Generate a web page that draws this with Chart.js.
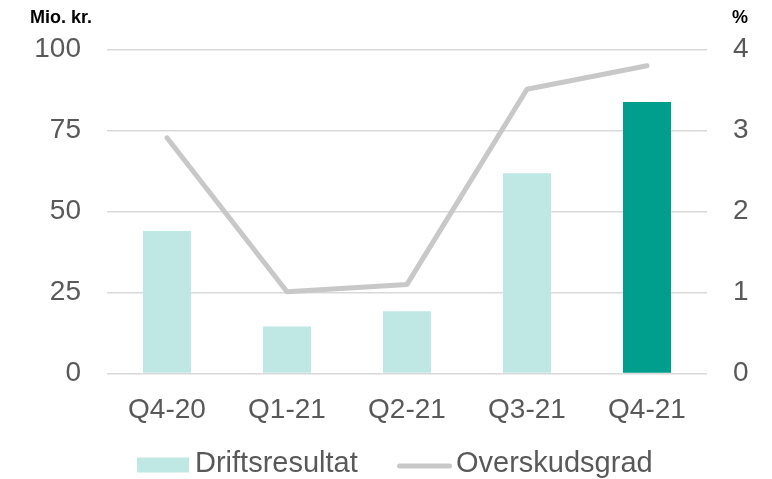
<!DOCTYPE html>
<html>
<head>
<meta charset="utf-8">
<script src="https://cdn.jsdelivr.net/npm/chart.js@4/dist/chart.umd.min.js"></script>
<style>
  html, body { margin: 0; padding: 0; background: #fff; }
  #wrap { width: 772px; height: 479px; }
</style>
</head>
<body>
<div id="wrap"><canvas id="resultChart" width="772" height="479"></canvas></div>
<script>
// Data
const quarters = ['Q4-20', 'Q1-21', 'Q2-21', 'Q3-21', 'Q4-21'];
const driftsresultat = [44, 14.5, 19.2, 61.8, 83.8];   // Mio. kr.
const overskudsgrad = [2.91, 1.01, 1.1, 3.51, 3.8];    // %
const leftTicks = [0, 25, 50, 75, 100];
const rightTicks = [0, 1, 2, 3, 4];

const lightTeal = '#bfe7e3';
const darkTeal = '#009e8c';
const lineGrey = '#c8c8c8';
const textGrey = '#595959';
const fontFamily = '"Liberation Sans", Arial, sans-serif';

// Latest quarter highlighted in the dark colour
const barColors = quarters.map((q, i) => i === quarters.length - 1 ? darkTeal : lightTeal);

// Axis titles above each y axis and a hand-placed legend under the x axis
const decorations = {
  id: 'decorations',
  afterDraw(chart) {
    const ctx = chart.ctx;
    ctx.save();

    // Axis titles
    ctx.fillStyle = '#000';
    ctx.font = 'bold 18px ' + fontFamily;
    ctx.textBaseline = 'middle';
    ctx.textAlign = 'left';
    ctx.fillText('Mio. kr.', 30, 18);
    ctx.fillText('%', 732, 18);

    // Legend
    const barSet = chart.data.datasets[1];
    const lineSet = chart.data.datasets[0];
    const legendY = 464;
    ctx.font = '29px ' + fontFamily;
    ctx.fillStyle = barSet.backgroundColor[0];
    ctx.fillRect(137, 457.5, 52, 15);
    ctx.fillStyle = textGrey;
    ctx.fillText(barSet.label, 195, legendY);

    ctx.strokeStyle = lineSet.borderColor;
    ctx.lineWidth = lineSet.borderWidth;
    ctx.lineCap = 'round';
    ctx.beginPath();
    ctx.moveTo(399.5, 466);
    ctx.lineTo(449.5, 466);
    ctx.stroke();
    ctx.fillStyle = textGrey;
    ctx.fillText(lineSet.label, 456, legendY);

    ctx.restore();
  }
};

const ctx = document.getElementById('resultChart').getContext('2d');
const chart = new Chart(ctx, {
  type: 'bar',
  data: {
    labels: quarters,
    datasets: [{
      type: 'line',
      label: 'Overskudsgrad',
      data: overskudsgrad,
      yAxisID: 'y1',
      borderColor: lineGrey,
      borderWidth: 5,
      borderCapStyle: 'round',
      borderJoinStyle: 'round',
      pointRadius: 0,
      tension: 0,
      fill: false,
      order: 0
    }, {
      type: 'bar',
      label: 'Driftsresultat',
      data: driftsresultat,
      yAxisID: 'y',
      backgroundColor: barColors,
      borderWidth: 0,
      categoryPercentage: 1,
      barPercentage: 0.4,
      order: 1
    }]
  },
  options: {
    responsive: false,
    animation: false,
    devicePixelRatio: 1,
    layout: {
      padding: { top: 49.5, bottom: 50.5, left: 0, right: 0 }
    },
    plugins: {
      legend: { display: false },
      tooltip: { enabled: false }
    },
    scales: {
      x: {
        grid: { display: false },
        border: { display: false },
        ticks: {
          color: textGrey,
          font: { family: fontFamily, size: 28 },
          padding: 12,
          maxRotation: 0
        },
        afterFit: scale => { scale.height = 55; }
      },
      y: {
        position: 'left',
        min: 0,
        max: 100,
        afterBuildTicks: scale => { scale.ticks = leftTicks.map(v => ({ value: v })); },
        grid: { color: '#d9d9d9', lineWidth: 1.5, drawTicks: false },
        border: { display: false },
        ticks: {
          color: textGrey,
          font: { family: fontFamily, size: 28 },
          padding: 26
        },
        afterFit: scale => { scale.width = 107; }
      },
      y1: {
        position: 'right',
        min: 0,
        max: 4,
        afterBuildTicks: scale => { scale.ticks = rightTicks.map(v => ({ value: v })); },
        grid: { display: false, drawTicks: false },
        border: { display: false },
        ticks: {
          color: textGrey,
          font: { family: fontFamily, size: 28 },
          padding: 26
        },
        afterFit: scale => { scale.width = 65; }
      }
    }
  },
  plugins: [decorations]
});
</script>
</body>
</html>
